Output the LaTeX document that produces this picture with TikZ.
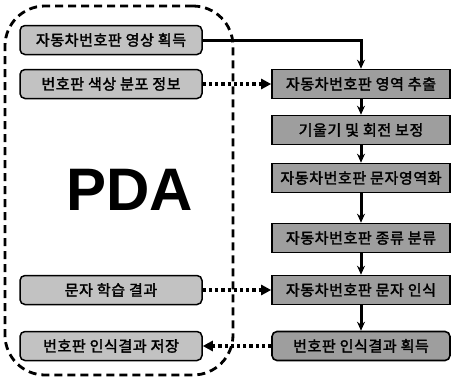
\documentclass[tikz,border=0pt]{standalone}
\usepackage{fontspec}
\newfontfamily\kr[FakeBold=2.2,LetterSpace=4]{Noto Sans CJK KR}
\setsansfont{Liberation Sans}
\usetikzlibrary{arrows.meta}
\begin{document}
\begin{tikzpicture}[x=1pt,y=-1pt,
  boxtext/.style={font=\kr\fontsize{15}{17}\selectfont, text=black},
  lbox/.style={boxtext, draw=black, line width=1.5pt, rounded corners=5pt, fill=black!24,
    minimum width=182pt, minimum height=29pt, inner sep=0pt},
  rbox/.style={boxtext, draw=black, line width=1.6pt, fill=black!38,
    minimum width=178pt, minimum height=29pt, inner sep=0pt},
  flow/.style={line width=3pt, -{Stealth[length=9pt,width=8pt]}},
  dotline/.style={line width=3.2pt, dash pattern=on 3.2pt off 3pt, -{Triangle[length=10pt,width=10pt]}},
  region/.style={draw=black, line width=2.8pt, dash pattern=on 8pt off 5pt, rounded corners=40pt,
    minimum width=228pt, minimum height=369pt, inner sep=0pt}
]
\useasboundingbox (0,0) rectangle (451,378);
\node[region] (area) at (119,190.5) {};
\node (pda) at (130,190) {\sffamily\bfseries\fontsize{60}{60}\selectfont PDA};

\node[lbox] (l1) at (111,40) {자동차번호판 영상 획득};
\node[lbox] (l2) at (111,84) {번호판 색상 분포 정보};
\node[lbox] (l3) at (111,290) {문자 학습 결과};
\node[lbox] (l4) at (111,346) {번호판 인식결과 저장};

\node[rbox] (r1) at (361,84) {자동차번호판 영역 추출};
\node[rbox] (r2) at (361,130) {기울기 및 회전 보정};
\node[rbox] (r3) at (361,178) {자동차번호판 문자영역화};
\node[rbox] (r4) at (361,238) {자동차번호판 종류 분류};
\node[rbox] (r5) at (361,290) {자동차번호판 문자 인식};
\node[rbox, rounded corners=5pt] (r6) at (361,346) {번호판 인식결과 획득};

\draw[flow] (l1.east) -| (r1.north);
\draw[flow] (r1.south) -- (r2.north);
\draw[flow] (r2.south) -- (r3.north);
\draw[flow] (r3.south) -- (r4.north);
\draw[flow] (r4.south) -- (r5.north);
\draw[flow] (r5.south) -- (r6.north);

\draw[dotline] (l2.east) -- (r1.west);
\draw[dotline] (l3.east) -- (r5.west);
\draw[dotline] (r6.west) -- (l4.east);
\end{tikzpicture}
\end{document}
